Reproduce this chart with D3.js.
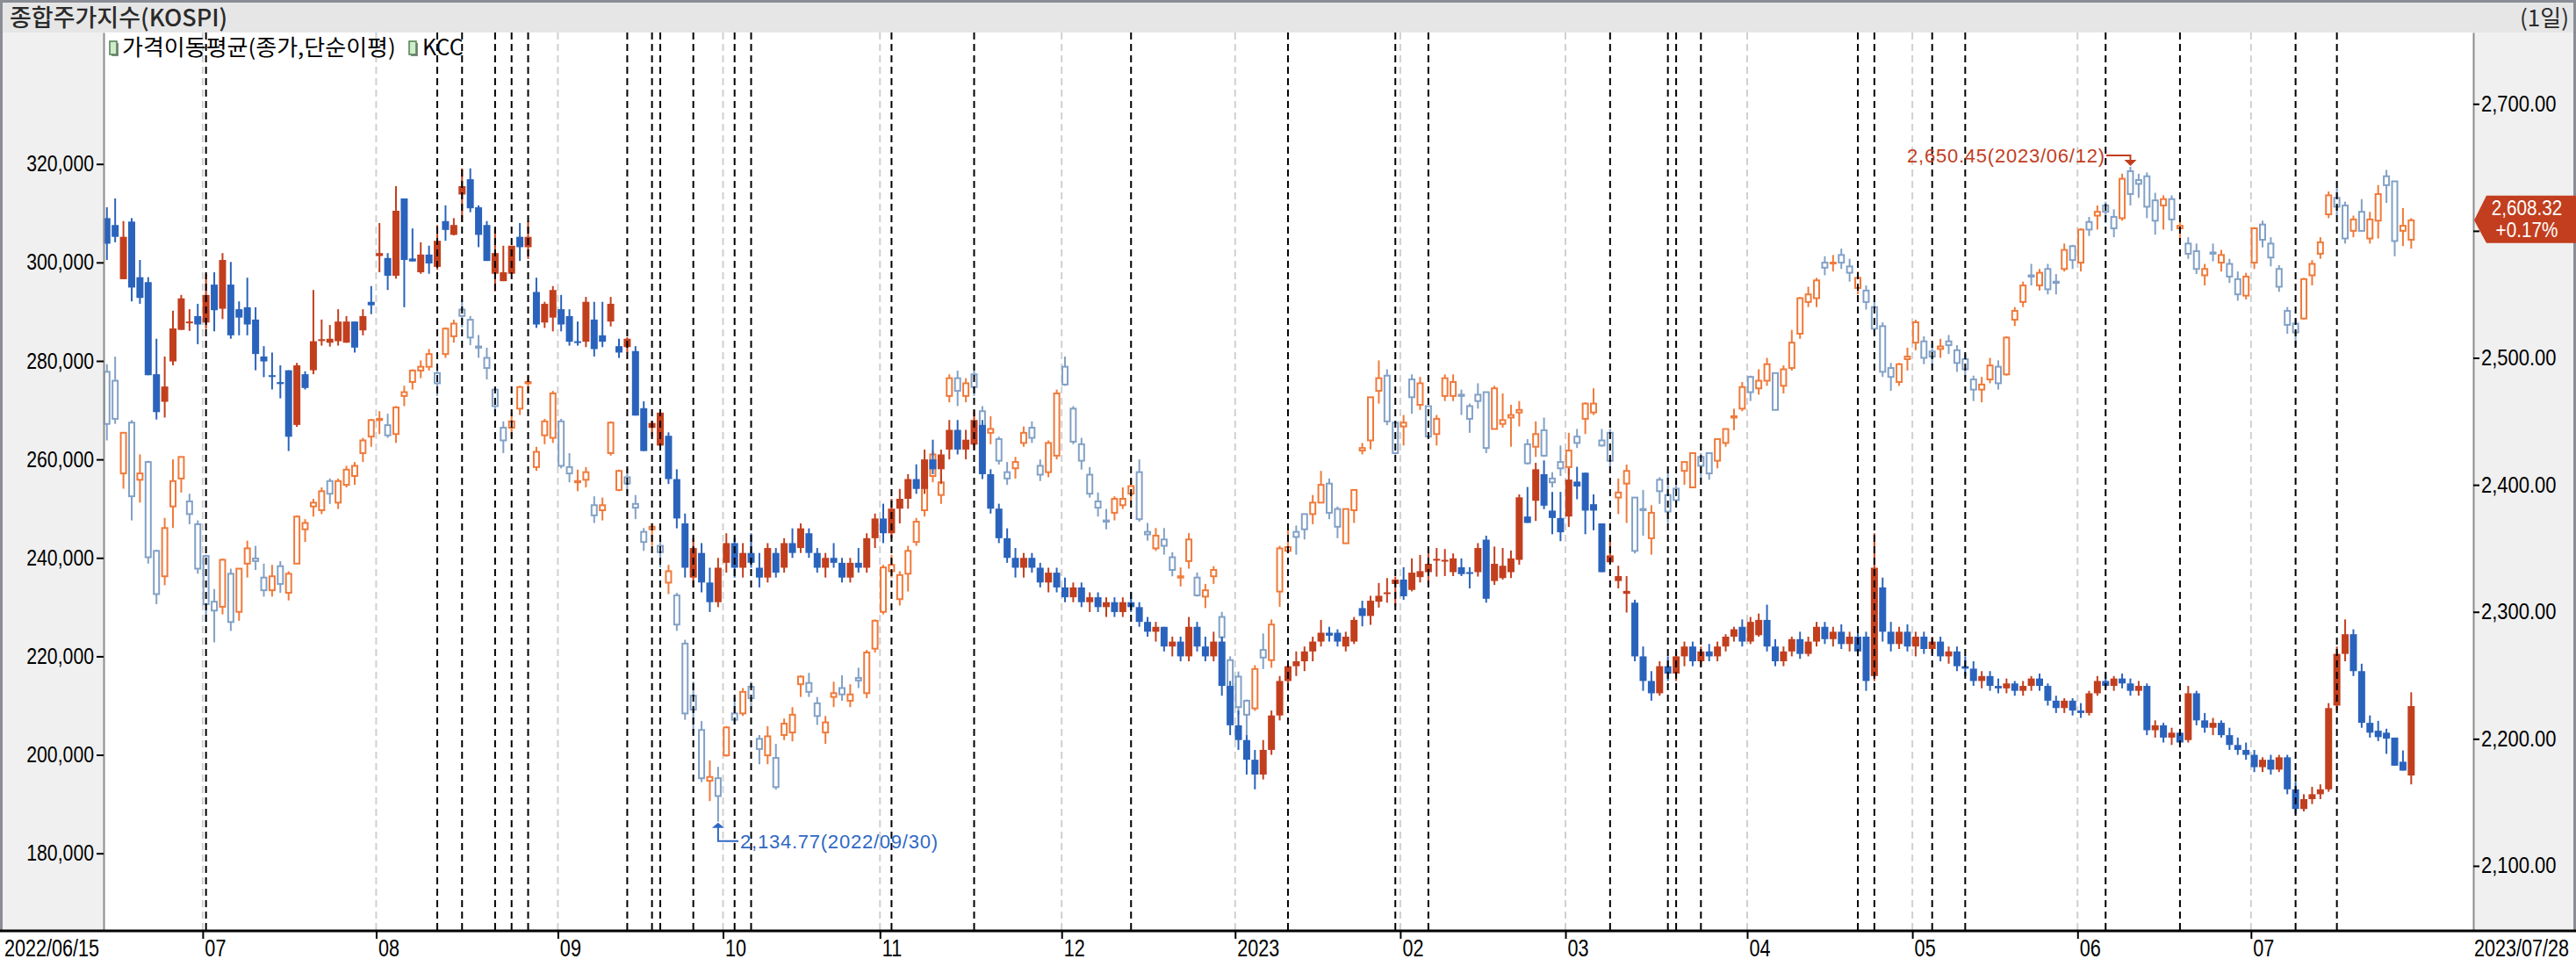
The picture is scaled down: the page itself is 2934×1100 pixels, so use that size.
<!DOCTYPE html>
<html>
<head>
<meta charset="utf-8">
<script src="https://cdn.jsdelivr.net/npm/d3@7"></script>
<style>
  body { margin: 0; background: #fff; }
  svg { display: block; }
</style>
</head>
<body>
<svg id="chart" width="2934" height="1100"></svg>
<script>
// trading calendar (KRX closed days inside the range)
var firstDay = "2022-06-15", lastDay = "2023-07-28";
var holidays = ["2022-08-15","2022-09-09","2022-09-12","2022-10-03","2022-10-10","2022-12-30",
  "2023-01-23","2023-01-24","2023-03-01","2023-05-01","2023-05-05","2023-05-29","2023-06-06"];

// KOSPI daily [open, high, low, close] (right axis, hollow candles)
var kospiCandles = [
[2489,2495,2435,2448],[2482,2501,2448,2452],[2409,2441,2397,2441],[2449,2451,2372,2391],[2404,2424,2386,2409],
[2418,2419,2338,2343],[2348,2349,2306,2314],[2328,2374,2321,2366],[2383,2420,2366,2403],[2405,2422,2394,2422],
[2387,2393,2369,2377],[2369,2372,2330,2334],[2344,2345,2292,2306],[2308,2318,2276,2301],[2304,2342,2298,2341],
[2330,2334,2285,2292],[2300,2334,2293,2334],[2338,2356,2327,2350],[2342,2352,2333,2340],[2327,2338,2312,2317],
[2317,2337,2312,2328],[2336,2340,2315,2322],[2315,2332,2309,2330],[2338,2376,2338,2375],[2365,2373,2355,2370],
[2383,2389,2375,2386],[2380,2398,2377,2395],[2403,2405,2385,2393],[2386,2405,2381,2403],[2400,2415,2398,2412],
[2407,2418,2400,2415],[2425,2437,2418,2435],[2438,2452,2430,2451],[2451,2458,2440,2452],[2447,2456,2437,2439],
[2440,2462,2433,2461],[2470,2478,2462,2473],[2481,2491,2475,2490],[2490,2498,2484,2493],[2493,2507,2490,2503],
[2488,2492,2470,2480],[2503,2524,2500,2523],[2517,2530,2512,2527],[2538,2546,2524,2533],[2530,2533,2510,2516],
[2509,2518,2500,2508],[2500,2508,2483,2492],[2475,2476,2455,2462],[2445,2450,2425,2435],[2445,2457,2438,2450],
[2460,2478,2455,2477],[2480,2486,2472,2481],[2414,2430,2411,2426],[2439,2452,2432,2450],[2437,2474,2433,2472],
[2450,2452,2413,2415],[2414,2425,2402,2409],[2402,2412,2395,2403],[2404,2414,2398,2410],[2384,2391,2370,2376],
[2380,2390,2372,2384],[2425,2450,2423,2449],[2396,2412,2395,2411],[2406,2413,2393,2401],[2385,2392,2373,2382],
[2363,2366,2348,2355],[2365,2370,2352,2367],[2352,2356,2335,2347],[2323,2337,2314,2332],[2313,2315,2285,2290],
[2275,2278,2215,2220],[2234,2245,2204,2223],[2207,2214,2166,2169],[2167,2183,2151,2170],[2169,2178,2134.77,2155],
[2187,2210,2186,2209],[2220,2233,2211,2215],[2220,2240,2218,2237],[2241,2245,2226,2232],[2200,2203,2180,2192],
[2187,2210,2180,2202],[2185,2196,2160,2162],[2203,2216,2199,2212],[2205,2225,2198,2219],[2243,2250,2233,2249],
[2244,2252,2233,2237],[2228,2233,2211,2218],[2205,2218,2196,2213],[2233,2245,2225,2236],[2240,2250,2230,2235],
[2230,2243,2225,2235],[2248,2256,2240,2246],[2236,2270,2232,2268],[2271,2294,2268,2293],[2300,2337,2298,2335],
[2332,2345,2327,2337],[2310,2332,2305,2329],[2330,2352,2316,2348],[2355,2374,2352,2371],[2380,2401,2375,2399],
[2407,2427,2402,2424],[2392,2412,2385,2402],[2470,2487,2465,2484],[2484,2490,2462,2474],[2470,2484,2465,2480],
[2487,2490,2470,2477],[2458,2462,2440,2442],[2441,2454,2432,2444],[2436,2438,2416,2419],[2410,2418,2400,2405],
[2413,2422,2405,2418],[2433,2446,2430,2441],[2445,2450,2433,2437],[2415,2420,2403,2408],[2410,2435,2406,2433],
[2423,2475,2420,2472],[2493,2501,2478,2479],[2460,2462,2432,2434],[2432,2437,2412,2419],[2408,2414,2390,2393],
[2387,2394,2375,2382],[2372,2381,2365,2371],[2378,2391,2372,2389],[2384,2398,2381,2389],[2393,2405,2387,2399],
[2410,2420,2371,2373],[2363,2370,2356,2361],[2350,2366,2348,2360],[2357,2366,2345,2352],[2343,2347,2328,2333],
[2327,2335,2320,2328],[2340,2362,2334,2357],[2327,2331,2312,2313],[2312,2322,2303,2317],[2328,2336,2322,2333],
[2296,2300,2276,2280],[2262,2265,2231,2236],[2249,2253,2219,2225],[2230,2231,2181,2219],[2224,2258,2222,2255],
[2270,2283,2255,2264],[2262,2294,2256,2290],[2316,2352,2304,2350],[2348,2365,2346,2351],[2363,2368,2345,2359],
[2377,2377,2357,2365],[2377,2392,2369,2386],[2386,2411,2386,2400],[2401,2405,2373,2378],[2381,2383,2358,2367],
[2354,2381,2354,2381],[2380,2396,2370,2396],[2427,2433,2424,2429],[2435,2469,2428,2469],[2474,2498,2464,2484],
[2486,2491,2447,2450],[2449,2449,2424,2425],[2446,2455,2431,2449],[2483,2487,2456,2469],[2463,2485,2459,2480],
[2462,2462,2438,2438],[2440,2455,2431,2452],[2470,2487,2466,2484],[2470,2487,2466,2481],[2471,2475,2455,2470],
[2462,2464,2441,2452],[2471,2480,2460,2466],[2473,2473,2425,2429],[2444,2478,2444,2476],[2448,2472,2445,2451],
[2453,2463,2430,2455],[2457,2466,2446,2459],[2432,2436,2416,2417],[2430,2450,2422,2440],[2443,2453,2422,2423],
[2405,2410,2398,2402],[2418,2431,2407,2413],[2414,2441,2408,2427],[2438,2444,2429,2433],[2452,2465,2440,2464],
[2457,2476,2455,2464],[2435,2444,2430,2431],[2441,2444,2414,2419],[2390,2405,2377,2394],[2401,2416,2370,2411],
[2390,2390,2346,2348],[2381,2396,2360,2380],[2358,2384,2345,2378],[2404,2406,2385,2395],[2392,2410,2370,2379],
[2397,2402,2385,2388],[2411,2418,2400,2418],[2398,2425,2398,2425],[2422,2425,2405,2415],[2425,2425,2404,2409],
[2419,2436,2413,2436],[2433,2444,2430,2444],[2453,2460,2443,2454],[2460,2481,2458,2477],[2485,2486,2466,2473],
[2476,2491,2471,2482],[2482,2500,2478,2495],[2488,2488,2459,2459],[2478,2494,2472,2491],[2492,2522,2490,2512],
[2519,2548,2515,2547],[2544,2556,2540,2550],[2547,2563,2540,2561],[2575,2580,2565,2571],[2575,2581,2568,2575],
[2581,2586,2570,2575],[2572,2578,2560,2567],[2555,2568,2550,2563],[2553,2557,2538,2544],[2540,2545,2518,2523],
[2525,2528,2485,2489],[2492,2496,2474,2485],[2481,2496,2478,2495],[2499,2508,2490,2501],[2512,2530,2506,2528],
[2513,2517,2495,2500],[2505,2511,2494,2501],[2507,2515,2500,2509],[2513,2518,2503,2510],[2506,2510,2489,2496],
[2499,2503,2484,2491],[2483,2486,2466,2475],[2475,2485,2465,2479],[2483,2500,2480,2494],[2493,2498,2475,2480],
[2487,2517,2486,2516],[2530,2540,2525,2537],[2544,2560,2540,2557],[2565,2574,2557,2564],[2557,2570,2553,2567],
[2570,2574,2550,2554],[2560,2566,2550,2559],[2570,2590,2568,2585],[2588,2589,2570,2577],[2575,2602,2568,2601],
[2607,2611,2596,2601],[2612,2620,2601,2615],[2620,2623,2606,2615],[2611,2617,2595,2602],[2610,2645,2608,2641],
[2647,2650.45,2620,2629],[2640,2645,2626,2637],[2643,2646,2610,2619],[2624,2630,2597,2608],[2620,2628,2601,2625],
[2625,2628,2600,2609],[2602,2612,2590,2604],[2590,2595,2578,2582],[2584,2590,2566,2570],[2565,2574,2557,2570],
[2583,2590,2576,2582],[2575,2585,2568,2581],[2574,2578,2559,2564],[2562,2568,2545,2550],[2549,2567,2546,2564],
[2575,2603,2570,2602],[2605,2608,2587,2593],[2590,2595,2572,2579],[2570,2573,2552,2556],[2537,2540,2519,2526],
[2527,2531,2509,2520],[2531,2563,2530,2562],[2565,2577,2557,2574],[2582,2595,2578,2591],[2613,2631,2610,2628],
[2626,2634,2612,2619],[2620,2623,2590,2594],[2600,2612,2595,2609],[2615,2625,2600,2600],[2594,2615,2590,2609],
[2608,2636,2594,2629],[2643,2648,2622,2636],[2639,2639,2580,2592],[2600,2618,2588,2604],[2593,2610,2586,2608.32]
];

// KCC daily [open, high, low, close] in won (left axis, solid candles)
var kccCandles = [
[309000,311200,300500,303800],[307600,313000,304100,305200],[296600,308400,296600,305200],[308300,309000,292100,294900],[297000,300500,291600,292800],
[296000,297000,277100,277100],[277300,284500,268100,269600],[271700,280900,268500,274800],[279900,290200,279100,286600],[286300,293400,286300,292700],
[287800,290500,286100,288000],[289100,291600,283400,287400],[287800,297700,286500,293400],[295500,298000,286000,290300],[290600,301900,288500,300500],
[295500,300100,284500,285200],[290500,292100,285200,288800],[290900,296900,285200,287400],[288400,290900,278100,281400],[280900,283000,276700,279900],
[277100,281700,274200,276900],[275700,279100,272400,275300],[278100,278100,261700,264600],[267000,279600,266600,279100],[277300,277900,274200,274500],
[278100,294400,277300,284000],[284200,288400,283100,284400],[283700,287300,282900,284500],[284000,290500,283100,288000],[283700,289100,283700,288000],
[288000,288000,281700,282700],[286200,290500,285200,289100],[292000,295200,289500,291300],[301300,308000,298000,301900],[300900,301900,294400,297300],
[297300,315500,296700,310500],[313000,313000,290900,300500],[300800,306900,300200,300200],[298000,304100,297700,301600],[301600,303400,297700,299800],
[299100,307600,298500,304400],[308400,311600,304400,306600],[305600,309000,305500,307600],[313800,319100,308200,315500],[316900,319100,310200,311000],
[311200,311600,303100,305600],[307600,308400,300300,300300],[297700,306900,294100,301900],[296200,303400,296200,298000],[297700,303400,297700,303400],
[305200,308000,300300,303100],[303100,308400,300700,305200],[294000,296900,286700,287400],[287800,292000,286700,291600],[288800,295200,286000,294400],
[290500,293400,286000,287400],[289100,290500,283100,283900],[284000,288000,283100,283900],[283900,293000,282800,292000],[288400,292000,280900,282400],
[285200,292000,282800,283900],[288000,293000,287000,291600],[283000,284500,280600,281700],[282800,284800,281700,284500],[282000,283000,268900,268900],
[270400,271800,261700,261700],[266400,267800,264700,267400],[262800,269800,262300,269500],[264800,265500,255000,256000],[256000,258000,246000,248000],
[247000,249000,236000,238000],[236000,244000,234000,242000],[241000,243000,233000,235000],[235000,238000,229000,231000],[231000,240000,230000,238000],
[239000,245000,237000,243000],[243000,244000,236000,238000],[238000,243000,236000,241000],[241000,245000,238000,239000],[238000,241000,234000,236000],
[236000,243000,235000,242000],[241000,242000,236000,237000],[238000,244000,237000,243000],[243000,246000,240000,241000],[242000,247000,241000,246000],
[245000,246000,240000,241000],[241000,242000,237000,238000],[238000,241000,236000,240000],[240000,243000,238000,239000],[239000,240000,235000,236000],
[236000,240000,235000,239000],[239000,242000,237000,238000],[238000,245000,237000,244000],[244000,249000,242000,248000],[248000,251000,243000,245000],
[245000,252000,244000,250000],[250000,254000,247000,252000],[252000,257000,250000,256000],[256000,259000,253000,254000],[254000,262000,253000,260000],
[260000,264000,257000,258000],[258000,262000,255000,261000],[262000,268000,260000,266000],[266000,268000,261000,262000],[262000,266000,260000,264000],
[263000,270000,262000,268000],[267000,268000,256000,257000],[257000,258000,249000,250000],[250000,251000,243000,244000],[244000,246000,239000,240000],
[240000,242000,236000,238000],[238000,241000,236000,240000],[240000,241000,237000,238000],[238000,239000,234000,235000],[235000,238000,233000,237000],
[237000,238000,233000,234000],[234000,236000,231000,232000],[232000,235000,231000,234000],[234000,235000,230000,231000],[231000,233000,229000,232000],
[232000,233000,229000,230000],[230000,232000,228000,231000],[231000,232000,228000,229000],[229000,232000,228000,231000],[231000,233000,229000,230000],
[230000,231000,226000,227000],[227000,228000,224000,225000],[225000,227000,223000,226000],[226000,226000,221000,222000],[222000,224000,220000,223000],
[223000,224000,219000,220000],[220000,228000,219000,226000],[226000,227000,221000,222000],[222000,224000,219000,220000],[220000,225000,219000,223000],
[223000,224000,212000,214000],[214000,215000,204000,206000],[206000,209000,201000,203000],[203000,204000,196000,199000],[199000,201000,193000,196000],
[196000,203000,195000,201000],[201000,209000,200000,208000],[208000,216000,207000,215000],[215000,219000,213000,218000],[218000,221000,216000,219000],
[219000,222000,217000,221000],[221000,224000,219000,223000],[223000,227400,222000,224800],[224800,226000,223000,224200],[224800,225500,222000,223000],
[222000,225000,221000,224000],[223000,228000,222500,227400],[229800,231300,226100,228200],[228200,232300,226400,231300],[231100,234900,229900,232300],
[232900,235900,230900,233000],[234700,236200,230200,235600],[235600,238100,231500,232200],[233500,239900,233200,237000],[236100,240600,235000,237300],
[237100,241800,234700,238800],[239600,242000,236200,239800],[239400,241800,236300,239600],[237100,240900,236300,239900],[238100,239900,236300,236700],
[237100,238100,233800,236900],[237100,243000,236200,242000],[243700,244500,230900,231700],[235300,242300,234500,238800],[235900,242000,235600,238400],
[237100,241500,235900,239900],[239600,252900,238600,252300],[248400,254400,247100,247100],[251600,259300,247500,258000],[257000,259800,249900,250600],
[249600,253400,244800,248100],[248100,253400,243400,245200],[248400,258200,246300,255900],[255500,258500,251900,254500],[257300,257300,244800,249600],
[250900,252900,245600,249600],[247000,247000,237100,237100],[239100,244200,239100,240500],[235300,238400,233800,236300],[232700,236300,228900,233300],
[230900,231500,219000,220000],[220000,222000,213000,215000],[215000,217000,211000,212500],[212500,219000,212000,218000],[218000,220000,215000,216500],
[216500,221000,215000,220000],[220000,223000,218000,222000],[222000,223000,218000,219000],[219000,222000,218000,221000],[221000,222500,219000,220000],
[220000,223000,219000,222000],[222000,224500,221000,224000],[224000,226000,223000,225500],[226000,227500,222000,223000],[223000,228000,222500,227000],
[224300,228700,224000,227400],[227400,230500,221000,222000],[222000,223500,218000,219000],[219000,222000,218000,221000],[221000,224000,220000,223500],
[223500,225000,219500,220500],[220500,224000,220000,223000],[223000,227000,222000,226000],[226000,227000,222500,223500],[223500,226000,222000,225000],
[225000,226500,221500,222500],[222500,225000,221000,224000],[224000,225000,220000,221000],[224000,225000,213000,215000],[216000,245000,215000,238000],
[234000,236000,223000,225000],[225000,227000,221000,222500],[222500,226000,221500,225000],[225000,226500,221000,222000],[222000,225000,220000,224000],
[224000,225000,220500,221500],[221500,224000,220500,223000],[223000,224000,219000,220000],[220000,222000,218500,221000],[221000,222000,217000,218000],
[218000,220000,216000,217500],[217500,219000,214000,215000],[215000,217000,213500,216000],[216000,217000,213000,214000],[214000,215500,212500,213500],
[213500,215500,212500,214500],[214500,215000,212000,213000],[213000,215000,212000,214000],[214000,216000,213000,215500],[215500,216500,213000,214000],
[214000,214500,210000,211000],[211000,212000,208500,209500],[209500,211500,208500,211000],[211000,211500,208000,209000],[209000,210500,207500,208500],
[208500,213000,208000,212500],[212500,216000,212000,215000],[215000,216500,213500,214000],[214000,216000,213000,215500],[215500,216500,213500,214500],
[214500,215500,212000,213000],[213000,215000,212000,214000],[214000,214500,204000,205000],[205000,207000,203500,206000],[206000,206500,202500,203500],
[203500,205500,202000,204500],[204500,205000,201500,202500],[203000,214000,202500,212500],[212500,213000,206000,207000],[207000,208500,204500,205500],
[205500,207500,204000,206500],[206500,207000,203500,204000],[204000,205500,201000,202000],[202000,203500,200000,201000],[201000,202500,199000,200000],
[200000,201000,196500,197500],[197500,199500,196500,199000],[199000,200000,196000,197000],[197000,200000,196500,199500],[199500,200000,192000,193000],
[193000,194500,188000,189000],[189000,192000,188500,191000],[191000,193500,190000,192000],[192000,194000,191000,193000],[193000,210500,192500,209500],
[210000,222000,209000,220500],[220500,227500,219000,224500],[224500,225500,216000,217000],[217000,218500,205500,206500],[206500,208000,203500,204500],
[204900,206900,202800,203600],[204500,205300,200200,203300],[203500,203500,197800,197800],[198600,200900,196800,196800],[195800,212700,194000,209900]
];

// vertical event markers (black dashed)
var eventDates = ["2022-07-01","2022-08-10","2022-08-16","2022-08-22","2022-08-24","2022-08-26",
  "2022-09-15","2022-09-20","2022-09-21","2022-09-27","2022-10-05","2022-10-07","2022-11-02","2022-11-16",
  "2022-12-13","2023-01-10","2023-01-31","2023-02-06","2023-03-09","2023-03-20","2023-03-21","2023-03-24",
  "2023-04-20","2023-04-24","2023-05-04","2023-05-11","2023-06-07","2023-06-20","2023-07-10","2023-07-17"];

var leftTicks = [180000,200000,220000,240000,260000,280000,300000,320000];
var rightTicks = [2100,2200,2300,2400,2500,2600,2700];

// ---------------------------------------------------------------
function tradingDays(a, b) {
  var out = [], d = new Date(a + "T00:00:00Z"), end = new Date(b + "T00:00:00Z");
  while (d <= end) {
    var s = d.toISOString().slice(0, 10), w = d.getUTCDay();
    if (w !== 0 && w !== 6 && holidays.indexOf(s) < 0) out.push(s);
    d.setUTCDate(d.getUTCDate() + 1);
  }
  return out;
}
var dates = tradingDays(firstDay, lastDay);

var svg = d3.select("#chart");
var L = 118, R = 2817, T = 37, B = 1060, step = 9.407;
var numFont = "'Liberation Sans', Arial, sans-serif";
var korFont = "'Noto Sans CJK KR', 'Noto Sans', sans-serif";

var x = d3.scaleLinear().domain([0, 287]).range([L, L + 287 * step]);
var yL = d3.scaleLinear().domain([164250, 346700]).range([B, T]);
var yR = d3.scaleLinear().domain([2048.8, 2756.2]).range([B, T]);
var cx = function (i) { return x(i + 0.4); };

var last = kospiCandles[kospiCandles.length - 1][3];

// background panels
svg.append("rect").attr("x", 0).attr("y", 0).attr("width", 2934).attr("height", 1100).attr("fill", "#fff");
svg.append("rect").attr("x", 0).attr("y", T).attr("width", L).attr("height", B - T).attr("fill", "#f0f0f0");
svg.append("rect").attr("x", R).attr("y", T).attr("width", 2934 - R).attr("height", B - T).attr("fill", "#f0f0f0");
svg.append("rect").attr("x", 0).attr("y", 0).attr("width", 2934).attr("height", T).attr("fill", "#e6e6e6");
svg.append("rect").attr("x", 0).attr("y", 0).attr("width", 2934).attr("height", 3).attr("fill", "#8a8d96");
svg.append("rect").attr("x", 0).attr("y", 0).attr("width", 3).attr("height", B).attr("fill", "#8a8d96");
svg.append("rect").attr("x", 2931).attr("y", 0).attr("width", 3).attr("height", B).attr("fill", "#8a8d96");

// month grid lines
var monthIdx = [];
dates.forEach(function (d, i) {
  if (i > 0 && d.slice(5, 7) !== dates[i - 1].slice(5, 7)) monthIdx.push(i);
});
svg.append("g").selectAll("line").data(monthIdx).enter().append("line")
  .attr("x1", function (i) { return x(i); }).attr("x2", function (i) { return x(i); })
  .attr("y1", T).attr("y2", B)
  .attr("stroke", "#d0d0d0").attr("stroke-width", 2).attr("stroke-dasharray", "8,5");

// candles
function drawCandles(data, y, upCol, downCol, hollow) {
  var g = svg.append("g");
  var c = g.selectAll("g").data(data).enter().append("g");
  c.append("line")
    .attr("x1", function (d, i) { return cx(i); }).attr("x2", function (d, i) { return cx(i); })
    .attr("y1", function (d) { return y(d[1]); }).attr("y2", function (d) { return y(d[2]); })
    .attr("stroke", function (d) { return d[3] >= d[0] ? upCol : downCol; })
    .attr("stroke-width", 2);
  c.append("rect")
    .attr("x", function (d, i) { return cx(i) - (hollow ? 3 : 4); })
    .attr("width", hollow ? 6 : 8)
    .attr("y", function (d) { return y(Math.max(d[0], d[3])); })
    .attr("height", function (d) { return Math.max(hollow ? 1 : 2, Math.abs(y(d[0]) - y(d[3]))); })
    .attr("fill", function (d) { return hollow ? "#fff" : (d[3] >= d[0] ? upCol : downCol); })
    .attr("stroke", function (d) { return hollow ? (d[3] >= d[0] ? upCol : downCol) : "none"; })
    .attr("stroke-width", hollow ? 2 : 0);
}
drawCandles(kospiCandles, yR, "#f07a3a", "#82a1c6", true);
drawCandles(kccCandles, yL, "#c23f1e", "#2a63bc", false);

// event lines
svg.append("g").selectAll("line").data(eventDates).enter().append("line")
  .attr("x1", function (d) { return cx(dates.indexOf(d)); })
  .attr("x2", function (d) { return cx(dates.indexOf(d)); })
  .attr("y1", T).attr("y2", B)
  .attr("stroke", "#000").attr("stroke-width", 2).attr("stroke-dasharray", "8,5");

// left axis
var minorL = d3.range(180000, 320001, 5000).filter(function (v) { return v % 20000 !== 0; });
var gL = svg.append("g").attr("transform", "translate(" + L + ",0)");
gL.call(d3.axisLeft(yL).tickValues(minorL).tickSize(6).tickSizeOuter(0).tickFormat(""));
gL.call(d3.axisLeft(yL).tickValues(leftTicks).tickSize(8).tickSizeOuter(0).tickPadding(3)
  .tickFormat(d3.format(",")));
gL.selectAll(".domain").attr("stroke", "#8c8c8c").attr("stroke-width", 2);
gL.selectAll(".tick line").attr("stroke", "#000").attr("stroke-width", 2);
gL.selectAll("text").attr("font-family", numFont).attr("font-size", 25).attr("fill", "#000")
  .attr("transform", "scale(0.85,1)").attr("x", -11 / 0.85);

// right axis (the label next to the last price is covered by the price tag)
var minorR = d3.range(2100, 2701, 25).filter(function (v) { return v % 100 !== 0; });
var gR = svg.append("g").attr("transform", "translate(" + R + ",0)");
gR.call(d3.axisRight(yR).tickValues(minorR).tickSize(7).tickSizeOuter(0).tickFormat(""));
gR.call(d3.axisRight(yR).tickValues(rightTicks).tickSize(7).tickSizeOuter(0).tickPadding(2)
  .tickFormat(function (v) { return Math.abs(yR(v) - yR(last)) < 30 ? "" : d3.format(",.2f")(v); }));
gR.selectAll(".domain").attr("stroke", "#8c8c8c").attr("stroke-width", 2);
gR.selectAll(".tick line").attr("stroke", "#000").attr("stroke-width", 2);
gR.selectAll("text").attr("font-family", numFont).attr("font-size", 25).attr("fill", "#000")
  .attr("transform", "scale(0.88,1)").attr("x", 9 / 0.88);

// bottom axis
svg.append("rect").attr("x", 0).attr("y", B).attr("width", 2934).attr("height", 1100 - B).attr("fill", "#fff");
var gB = svg.append("g").attr("transform", "translate(0," + B + ")");
gB.call(d3.axisBottom(x).tickValues(monthIdx).tickSize(9).tickSizeOuter(0)
  .tickFormat(function (i) { var m = dates[i].slice(5, 7); return m === "01" ? dates[i].slice(0, 4) : m; }));
gB.select(".domain").remove();
gB.selectAll(".tick line").attr("stroke", "#000").attr("stroke-width", 2);
gB.selectAll("text").attr("font-family", numFont).attr("font-size", 27).attr("fill", "#000")
  .attr("text-anchor", "start").attr("dy", 0).attr("y", 29)
  .attr("transform", "scale(0.8,1)").attr("x", 2 / 0.8);
svg.append("rect").attr("x", 0).attr("y", B - 1.5).attr("width", 2934).attr("height", 3).attr("fill", "#000");
function sText(x0, y0, txt, size, sx, anchor, col, fam) {
  return svg.append("text").attr("transform", "translate(" + x0 + "," + y0 + ") scale(" + sx + ",1)")
    .attr("font-family", fam || numFont).attr("font-size", size).attr("fill", col || "#000")
    .attr("text-anchor", anchor || "start").text(txt);
}
sText(5, 1089, dates[0].replace(/-/g, "/"), 27, 0.8);
sText(2926, 1089, dates[dates.length - 1].replace(/-/g, "/"), 27, 0.8, "end");

// title bar
sText(11, 30, "종합주가지수(KOSPI)", 27, 1, "start", "#2a2a2a", korFont).attr("font-weight", 500);
sText(2926, 30, "(1일)", 26, 1, "end", "#2a2a2a", korFont);

// legend
function legendIcon(x0) {
  svg.append("rect").attr("x", x0 + 2).attr("y", 49).attr("width", 8).attr("height", 15).attr("fill", "#8a8a8a");
  svg.append("rect").attr("x", x0).attr("y", 47).attr("width", 8).attr("height", 15)
    .attr("fill", "#cfeccb").attr("stroke", "#4f7f52").attr("stroke-width", 1.5);
}
legendIcon(125);
sText(139, 63, "가격이동평균(종가,단순이평)", 25, 1.04, "start", "#000", korFont);
legendIcon(466);
sText(481, 63, "KCC", 25, 1, "start", "#000", korFont);

// max / min annotations
var maxI = 245, minI = 74, red = "#c23e1e", blue = "#2f68c4";
var mx = cx(maxI), my = yR(kospiCandles[maxI][1]);
svg.append("path").attr("d", "M2399," + (my - 13) + "H" + mx + "V" + (my - 6))
  .attr("fill", "none").attr("stroke", red).attr("stroke-width", 2);
svg.append("path").attr("d", "M" + (mx - 7) + "," + (my - 8) + "H" + (mx + 7) + "L" + mx + "," + (my - 1) + "Z").attr("fill", red);
sText(2397, my - 5, "2,650.45(2023/06/12)", 22, 1, "end", red).attr("textLength", 225);

var nx = cx(minI), ny = yR(kospiCandles[minI][2]);
svg.append("path").attr("d", "M" + nx + "," + (ny + 4) + "V" + (ny + 22) + "H841")
  .attr("fill", "none").attr("stroke", blue).attr("stroke-width", 2);
svg.append("path").attr("d", "M" + (nx - 7) + "," + (ny + 7) + "H" + (nx + 7) + "L" + nx + "," + (ny + 1) + "Z").attr("fill", blue);
sText(843, ny + 30, "2,134.77(2022/09/30)", 22, 1, "start", blue).attr("textLength", 225);

// last price tag
var ly = yR(last);
svg.append("path").attr("d", "M2818," + ly + "L2832," + (ly - 28) + "H2934V" + (ly + 26) + "H2832Z").attr("fill", red);
sText(2878, ly - 6, d3.format(",.2f")(last), 23, 0.9, "middle", "#fff");
sText(2878, ly + 19, "+0.17%", 23, 0.9, "middle", "#fff");
</script>
</body>
</html>
